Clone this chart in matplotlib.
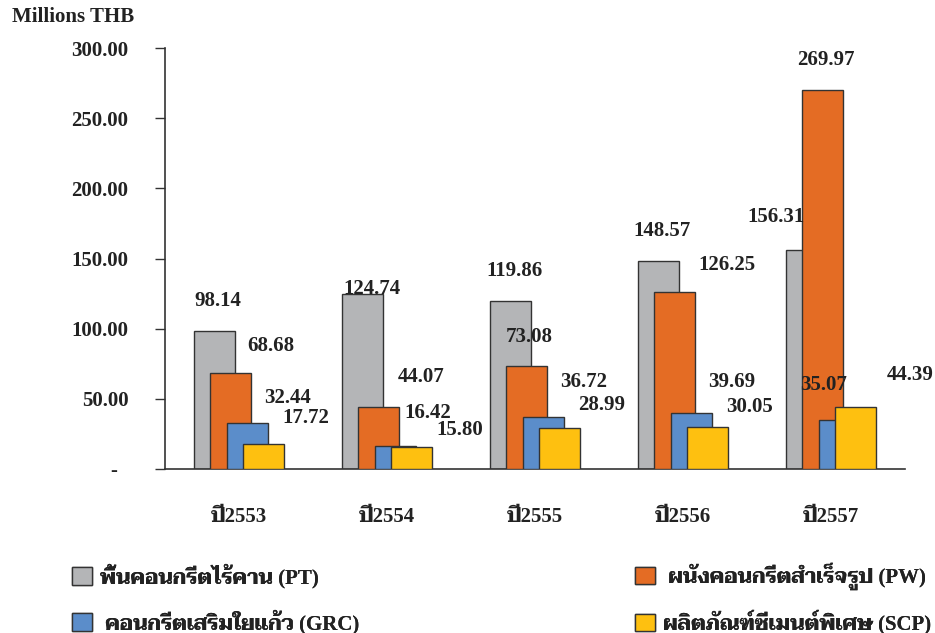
import matplotlib
matplotlib.use('Agg')
import matplotlib.pyplot as plt
from matplotlib.patches import Patch
import numpy as np

years = ['ปี2553', 'ปี2554', 'ปี2555', 'ปี2556', 'ปี2557']
pt = [98.14, 124.74, 119.86, 148.57, 156.31]
pw = [68.68, 44.07, 73.08, 126.25, 269.97]
grc = [32.44, 16.42, 36.72, 39.69, 35.07]
scp = [17.72, 15.80, 28.99, 30.05, 44.39]
names = ['พื้นคอนกรีตไร้คาน (PT)', ' ผนังคอนกรีตสำเร็จรูป (PW)',
         ' คอนกรีตเสริมใยแก้ว (GRC)', 'ผลิตภัณฑ์ซีเมนต์พิเศษ (SCP)']
colors = ['#B4B5B7', '#E46C24', '#5B8DCA', '#FEC010']

# label offsets (pixels) from bar top centre
offsets = [
    [(4, 30), (10, 5), (4, 30), (4, 30), (-30, 33)],
    [(40, 27), (42, 30), (3, 29), (52, 27), (3, 30)],
    [(40, 25), (32, 33), (40, 35), (40, 31), (-16, 35)],
    [(42, 26), (48, 17), (42, 23), (42, 20), (54, 32)],
]

serif = ['Liberation Serif', 'Taviraj', 'DejaVu Sans']

fig = plt.figure(figsize=(9.35, 6.33), dpi=100)
ax = fig.add_axes([165 / 935, 1 - 469 / 633, 740 / 935, 421 / 633])

x = np.arange(len(years))
width = 0.278
step = 0.1115
handles = []
for k, vals in enumerate([pt, pw, grc, scp]):
    bars = ax.bar(x + (k - 1.5) * step, vals, width, color=colors[k],
                  edgecolor='#333333', linewidth=1, zorder=2 + k)
    handles.append(Patch(facecolor=colors[k], edgecolor='#333333', label=names[k]))
    for b, v, (dx, dy) in zip(bars, vals, offsets[k]):
        ax.annotate(f'{v:.2f}', (b.get_x() + b.get_width() / 2, v),
                    xytext=(dx, dy), textcoords='offset pixels',
                    ha='center', va='center', fontsize=15, fontweight='bold',
                    family=serif, color='#222222', annotation_clip=False,
                    zorder=10)

ax.set_xlim(-0.5, 4.5)
ax.set_ylim(0, 300)
ax.set_yticks(np.arange(0, 301, 50))
ax.set_yticklabels(['-  '] + [f'{v:.2f}' for v in np.arange(50, 301, 50)])
ax.set_xticks(x)
ax.set_xticklabels(years)
for lab in ax.get_xticklabels() + ax.get_yticklabels():
    lab.set_family(serif)
    lab.set_fontweight('bold')
    lab.set_fontsize(15)
    lab.set_color('#222222')
ax.tick_params(axis='y', direction='out', length=7.2, width=1, pad=19, color='#333333')
ax.tick_params(axis='x', length=0, pad=27)
for s in ['top', 'right']:
    ax.spines[s].set_visible(False)
for s in ['left', 'bottom']:
    ax.spines[s].set_color('#333333')
    ax.spines[s].set_linewidth(1.2)

fig.text(12 / 935, 1 - 17 / 633, 'Millions THB', fontsize=15, fontweight='bold',
         family=serif, va='center', ha='left', color='#222222')

# legend: one entry per box, 2 x 2 grid
leg_kw = dict(frameon=False, loc='center left', borderpad=0, borderaxespad=0,
              handlelength=0.95, handleheight=0.9, handletextpad=0.4,
              prop={'family': serif, 'weight': 'bold', 'size': 15})
spots = [(72, 576), (635, 576), (72, 622), (635, 622)]
for h, (lx, ly) in zip(handles, spots):
    leg = fig.legend(handles=[h], bbox_to_anchor=(lx / 935, 1 - ly / 633), **leg_kw)
    for t in leg.get_texts():
        t.set_color('#222222')
    fig.add_artist(leg)

fig.savefig('out.png', dpi=100)
